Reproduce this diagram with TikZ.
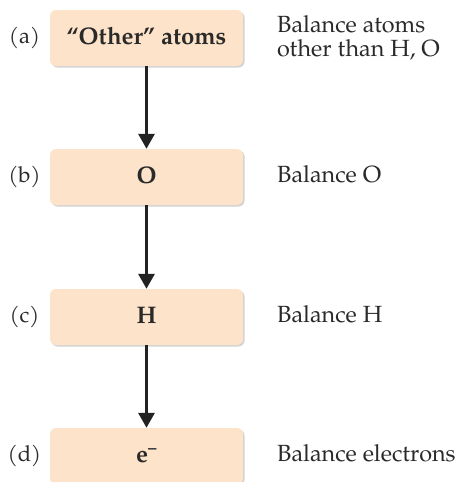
\documentclass[tikz,border=0pt]{standalone}
\usepackage{fontspec}
\setmainfont{TeX Gyre Pagella}
\usetikzlibrary{shadows,arrows.meta}
\definecolor{boxfill}{HTML}{FDE3C9}
\definecolor{arrowcol}{HTML}{222222}
\definecolor{txt}{HTML}{2A2A2A}
\tikzset{
  stepbox/.style={draw=none, fill=boxfill, rounded corners=6pt, minimum width=193pt, minimum height=56pt,
    text height=12pt, text depth=0pt,
    font=\fontsize{24}{24}\selectfont\bfseries, text=txt,
    drop shadow={opacity=0.35, shadow xshift=1.5pt, shadow yshift=-1.5pt}},
  steplabel/.style={font=\fontsize{22}{24}\selectfont, text=txt, anchor=base},
  desc/.style={font=\fontsize{23.4}{24}\selectfont, text=txt, anchor=base west, align=left, inner xsep=0pt},
  flow/.style={draw=arrowcol, line width=3pt, -{Triangle[width=16pt,length=15pt]}}
}
\begin{document}
\begin{tikzpicture}[x=1pt,y=-1pt]
\useasboundingbox (0,0) rectangle (461,482);
\node[stepbox] (a) at (146.5,38) {“Other” atoms};
\node[stepbox] (b) at (146.5,177) {O};
\node[stepbox] (c) at (146.5,317) {H};
\node[stepbox] (d) at (146.5,456) {e\textsuperscript{\raisebox{-0.1ex}{–}}};
\node[steplabel] (la) at (24.5,43) {(a)};
\node[steplabel] (lb) at (24.5,182) {(b)};
\node[steplabel] (lc) at (24.5,322) {(c)};
\node[steplabel] (ld) at (24.5,461) {(d)};
\node[desc, anchor=west] (ta) at (277,37.5) {Balance atoms\\other than H, O};
\node[desc] (tb) at (277,182) {Balance O};
\node[desc] (tc) at (277,322) {Balance H};
\node[desc] (td) at (277,461) {Balance electrons};
\draw[flow] (a.south) -- (b.north);
\draw[flow] (b.south) -- (c.north);
\draw[flow] (c.south) -- (d.north);
\end{tikzpicture}
\end{document}
